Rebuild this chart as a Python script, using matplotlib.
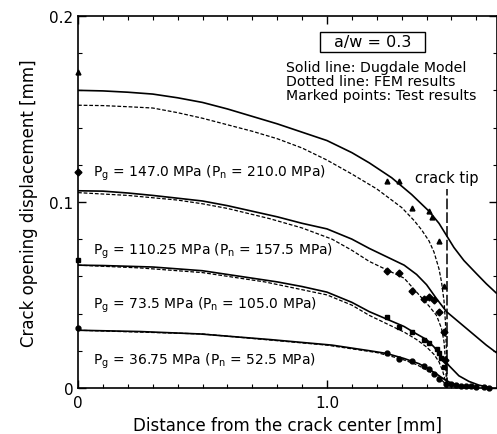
import matplotlib
matplotlib.use("Agg")
import matplotlib.pyplot as plt
from matplotlib.patches import Rectangle
from matplotlib.ticker import MultipleLocator, FixedLocator

plt.rcParams['font.family'] = ['DejaVu Sans']

# Dugdale model (solid lines)
dug_x = {
    147.0: [0, 0.1, 0.2, 0.3, 0.4, 0.5, 0.6, 0.7, 0.8, 0.9, 1.0, 1.1, 1.17, 1.26, 1.34, 1.41, 1.45,
            1.48, 1.51, 1.55, 1.60, 1.64, 1.68],
    110.25: [0, 0.1, 0.2, 0.3, 0.4, 0.5, 0.6, 0.7, 0.8, 0.9, 1.0, 1.1, 1.17, 1.24, 1.31, 1.36, 1.40,
             1.44, 1.48, 1.52, 1.56, 1.60, 1.64, 1.68],
    73.5: [0, 0.1, 0.2, 0.3, 0.4, 0.5, 0.6, 0.7, 0.8, 0.9, 1.0, 1.1, 1.17, 1.24, 1.31, 1.36, 1.40,
           1.43, 1.46, 1.49, 1.53, 1.57, 1.61, 1.66],
    36.75: [0, 0.25, 0.49, 0.77, 1.02, 1.17, 1.24, 1.31, 1.37, 1.41, 1.44, 1.47, 1.50, 1.53, 1.56],
}
dug_y = {
    147.0: [0.160, 0.1597, 0.159, 0.158, 0.156, 0.1535, 0.150, 0.146, 0.142, 0.1375, 0.133, 0.1265,
            0.121, 0.113, 0.104, 0.095, 0.0885, 0.082, 0.0755, 0.0685, 0.0615, 0.056, 0.051],
    110.25: [0.106, 0.1058, 0.1048, 0.1035, 0.102, 0.1005, 0.098, 0.095, 0.092, 0.0885, 0.0855, 0.080,
             0.075, 0.0705, 0.066, 0.061, 0.0555, 0.048, 0.041, 0.0365, 0.032, 0.0275, 0.023, 0.019],
    73.5: [0.066, 0.0658, 0.0654, 0.065, 0.064, 0.063, 0.061, 0.059, 0.057, 0.0545, 0.0515, 0.046,
           0.041, 0.037, 0.033, 0.029, 0.026, 0.022, 0.017, 0.012, 0.0065, 0.0035, 0.0015, 0.0],
    36.75: [0.031, 0.0303, 0.029, 0.026, 0.023, 0.020, 0.0185, 0.0158, 0.013, 0.010, 0.0075, 0.0047,
            0.0025, 0.001, 0.0],
}

# FEM results (dotted lines)
fem_x = {
    147.0: [0, 0.1, 0.2, 0.3, 0.4, 0.5, 0.6, 0.7, 0.8, 0.9, 1.0, 1.1, 1.2, 1.3, 1.35, 1.38, 1.41,
            1.43, 1.45, 1.46, 1.47, 1.476, 1.48, 1.482],
    110.25: [0, 0.2, 0.4, 0.5, 0.6, 0.77, 0.9, 1.02, 1.1, 1.17, 1.24, 1.31, 1.37, 1.41, 1.44, 1.46,
             1.47, 1.477, 1.48],
    73.5: [0, 0.25, 0.5, 0.75, 1.0, 1.1, 1.17, 1.24, 1.31, 1.36, 1.40, 1.43, 1.45, 1.465, 1.475, 1.48],
    36.75: [0, 0.5, 1.0, 1.2, 1.3, 1.36, 1.41, 1.45, 1.47, 1.48],
}
fem_y = {
    147.0: [0.152, 0.1518, 0.1512, 0.1505, 0.148, 0.145, 0.1415, 0.138, 0.134, 0.129, 0.1225, 0.115,
            0.107, 0.097, 0.090, 0.085, 0.079, 0.073, 0.064, 0.057, 0.047, 0.035, 0.018, 0.0],
    110.25: [0.105, 0.1035, 0.101, 0.099, 0.0965, 0.091, 0.086, 0.080, 0.074, 0.068, 0.0635, 0.059,
             0.050, 0.044, 0.039, 0.032, 0.025, 0.013, 0.0],
    73.5: [0.066, 0.0645, 0.062, 0.057, 0.050, 0.0445, 0.039, 0.0345, 0.030, 0.026, 0.022, 0.018,
           0.014, 0.009, 0.004, 0.0],
    36.75: [0.031, 0.029, 0.023, 0.019, 0.0155, 0.0125, 0.009, 0.0055, 0.003, 0.0],
}

# test results (marked points)
test_x = {
    147.0: [0, 1.24, 1.29, 1.34, 1.41, 1.42, 1.45, 1.47],
    110.25: [0, 1.24, 1.29, 1.34, 1.39, 1.41, 1.43, 1.45, 1.47, 1.475],
    73.5: [0, 1.24, 1.29, 1.34, 1.39, 1.41, 1.44, 1.45, 1.46, 1.47],
    36.75: [0, 1.24, 1.29, 1.34, 1.39, 1.41, 1.43, 1.45, 1.48, 1.50, 1.52, 1.54, 1.56, 1.58, 1.60, 1.63, 1.65],
}
test_y = {
    147.0: [0.170, 0.111, 0.111, 0.097, 0.095, 0.092, 0.079, 0.055],
    110.25: [0.116, 0.063, 0.062, 0.052, 0.048, 0.049, 0.047, 0.041, 0.030, 0.015],
    73.5: [0.069, 0.038, 0.033, 0.030, 0.026, 0.024, 0.021, 0.019, 0.016, 0.011],
    36.75: [0.032, 0.019, 0.0156, 0.0145, 0.012, 0.010, 0.0075, 0.005, 0.002, 0.002, 0.0015, 0.001, 0.001, 0.0008, 0.0005, 0.0005, 0.0],
}
markers = {147.0: '^', 110.25: 'D', 73.5: 's', 36.75: 'o'}

pg_txt = {147.0: '147.0', 110.25: '110.25', 73.5: '73.5', 36.75: '36.75'}
pn_txt = {147.0: '210.0', 110.25: '157.5', 73.5: '105.0', 36.75: '52.5'}
label_y = {147.0: 0.116, 110.25: 0.0737, 73.5: 0.045, 36.75: 0.015}

crack_tip = 1.482

fig = plt.figure(figsize=(4.97, 4.35), dpi=100)
ax = fig.add_axes([0.157, 0.106, 0.843, 0.855])

for pg in dug_x:
    ax.plot(dug_x[pg], dug_y[pg], color='black', lw=1.2)
    ax.plot(fem_x[pg], fem_y[pg], color='black', lw=0.9, ls=(0, (3, 1.5)))
    ax.plot(test_x[pg], test_y[pg], ls='none', marker=markers[pg], ms=3.5,
            color='black', clip_on=False)
    ax.text(0.06, label_y[pg],
            r'P$_{\mathrm{g}}$ = %s MPa (P$_{\mathrm{n}}$ = %s MPa)' % (pg_txt[pg], pn_txt[pg]),
            fontsize=10, va='center', ha='left')

ax.plot([crack_tip, crack_tip], [0, 0.107], color='black', lw=1.1, ls=(0, (7, 2)))
ax.text(crack_tip, 0.113, 'crack tip', fontsize=10.5, ha='center', va='center')

ax.add_patch(Rectangle((0.972, 0.1806), 0.422, 0.0108, fc='white', ec='black', lw=1.0))
ax.text(1.185, 0.186, 'a/w = 0.3', fontsize=11.5, ha='center', va='center')
ax.text(0.835, 0.1765, 'Solid line: Dugdale Model\nDotted line: FEM results\nMarked points: Test results',
        fontsize=10.2, ha='left', va='top', linespacing=1.0)

ax.set_xlim(0, 1.683)
ax.set_ylim(0, 0.2)
ax.xaxis.set_major_locator(FixedLocator([0, 1.0]))
ax.set_xticklabels(['0', '1.0'])
ax.xaxis.set_minor_locator(MultipleLocator(0.1))
ax.yaxis.set_major_locator(FixedLocator([0, 0.1, 0.2]))
ax.set_yticklabels(['0', '0.1', '0.2'])
ax.yaxis.set_minor_locator(MultipleLocator(0.02))
ax.tick_params(which='both', direction='in', top=True, right=True, labelsize=11)
ax.tick_params(axis='x', pad=5)
ax.tick_params(which='major', length=6, width=1)
ax.tick_params(which='minor', length=3, width=0.8)
for s in ax.spines.values():
    s.set_linewidth(1.2)

ax.set_xlabel('Distance from the crack center [mm]', fontsize=12, labelpad=4)
ax.set_ylabel('Crack opening displacement [mm]', fontsize=12, labelpad=8)

plt.savefig('out.png', dpi=100)
plt.close('all')
